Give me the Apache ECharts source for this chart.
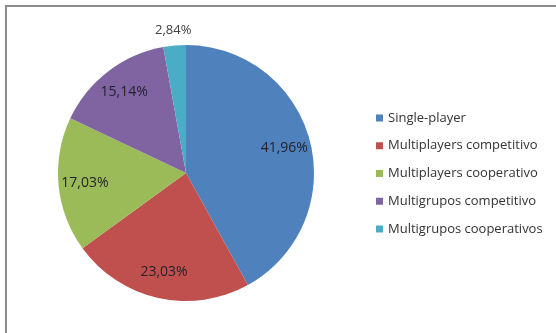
<!DOCTYPE html>
<html>
<head>
<meta charset="utf-8">
<script src="https://cdn.jsdelivr.net/npm/echarts@6/dist/echarts.min.js"></script>
<style>
  html, body { margin: 0; padding: 0; background: #fff; }
  #chart { width: 556px; height: 333px; }
</style>
</head>
<body>
<div id="chart"></div>
<script>
// Game mode shares (percent)
const categories = [
  'Single-player',
  'Multiplayers competitivo',
  'Multiplayers cooperativo',
  'Multigrupos competitivo',
  'Multigrupos cooperativos'
];
const shares = [41.96, 23.03, 17.03, 15.14, 2.84];
const colors = ['#4F81BD', '#C0504D', '#9BBB59', '#8064A2', '#4BACC6'];
// Slices whose label sits outside the pie
const outsideLabel = [false, false, false, false, true];

const FONT = '"Open Sans", sans-serif';
const CENTER = [186, 173];
const R = 128;

const fmt = v => v.toFixed(2).replace('.', ',') + '%';

const chart = echarts.init(document.getElementById('chart'), null, { renderer: 'canvas' });

const baseData = categories.map((name, i) => ({ name, value: shares[i] }));

chart.setOption({
  animation: false,
  backgroundColor: '#fff',
  color: colors,
  graphic: [{
    type: 'rect',
    shape: { x: 6, y: 6, width: 700, height: 500 },
    style: { fill: 'none', stroke: '#8c8c8c', lineWidth: 2 },
    silent: true,
    z: -10
  }],
  legend: {
    orient: 'vertical',
    left: 371,
    top: 106,
    icon: 'rect',
    itemWidth: 7,
    itemHeight: 7,
    itemGap: 13.75,
    data: categories,
    textStyle: { fontFamily: FONT, fontSize: 13, color: '#333', lineHeight: 14 }
  },
  series: [
    {
      // the slices
      type: 'pie',
      center: CENTER,
      radius: [0, R],
      startAngle: 90,
      clockwise: true,
      silent: true,
      label: { show: false },
      labelLine: { show: false },
      itemStyle: { borderWidth: 0 },
      data: baseData.map((d, i) => ({ ...d, itemStyle: { color: colors[i] } }))
    },
    {
      // value labels inside the slices
      type: 'pie',
      center: CENTER,
      radius: [R * 0.54, R],
      startAngle: 90,
      clockwise: true,
      silent: true,
      legendHoverLink: false,
      itemStyle: { color: 'rgba(0,0,0,0)', borderWidth: 0 },
      labelLine: { show: false },
      label: {
        position: 'inside',
        fontFamily: FONT,
        fontSize: 14,
        color: '#22232e',
        formatter: p => fmt(p.value)
      },
      data: baseData.map((d, i) => ({ ...d, label: { show: !outsideLabel[i] } }))
    },
    {
      // value labels just outside the rim
      type: 'pie',
      center: CENTER,
      radius: [R + 2, R + 22],
      startAngle: 90,
      clockwise: true,
      silent: true,
      legendHoverLink: false,
      itemStyle: { color: 'rgba(0,0,0,0)', borderWidth: 0 },
      labelLine: { show: false },
      label: {
        position: 'inside',
        fontFamily: FONT,
        fontSize: 13,
        color: '#404040',
        formatter: p => fmt(p.value)
      },
      data: baseData.map((d, i) => ({ ...d, label: { show: outsideLabel[i] } }))
    }
  ]
});
</script>
</body>
</html>
